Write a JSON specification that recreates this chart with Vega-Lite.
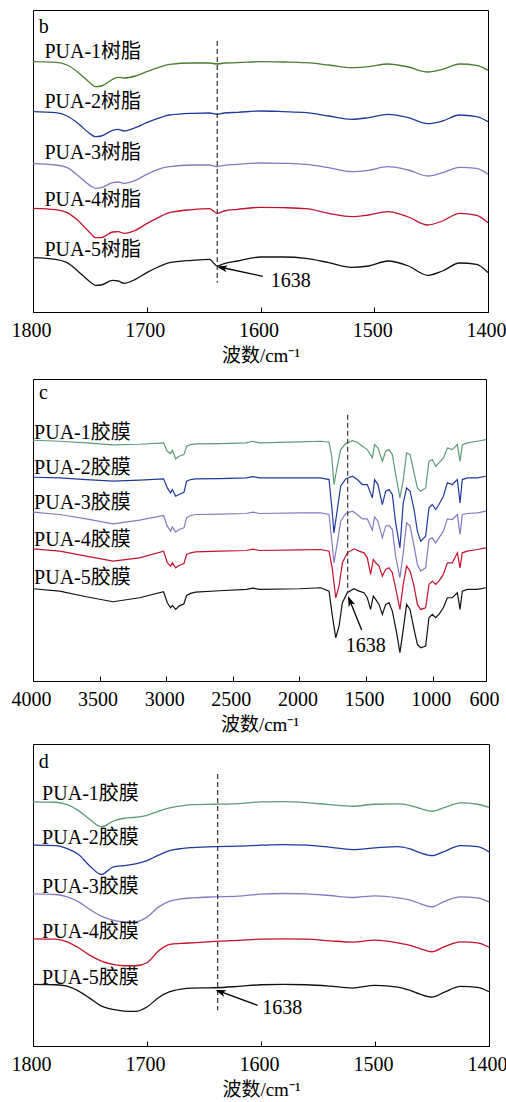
{
"$schema": "https://vega.github.io/schema/vega-lite/v6.json",
"padding": {"left": 10, "top": 9, "right": 0, "bottom": 0},
"config": {
  "font": "Liberation Serif",
  "view": {"stroke": "#000", "strokeWidth": 1},
  "axis": {"labelFont": "Liberation Serif", "labelFontSize": 20, "labelColor": "#000", "labelOffset": -2, "titleFont": "Liberation Serif, Noto Sans CJK SC", "titleFontSize": 19, "titleFontWeight": "normal", "titleColor": "#000", "domainColor": "#000", "tickColor": "#000", "tickSize": -5, "labelPadding": 13, "titlePadding": 6, "grid": false, "labelFlush": false, "labelOverlap": false},
  "text": {"color": "#000", "fontSize": 20, "font": "Liberation Serif, Noto Sans CJK SC"}
},
"datasets": {
"b": [
{"s":"PUA-1","x":1800,"y":818},{"s":"PUA-1","x":1780,"y":816},{"s":"PUA-1","x":1770,"y":808},{"s":"PUA-1","x":1760,"y":785},{"s":"PUA-1","x":1750,"y":755},{"s":"PUA-1","x":1745,"y":743},{"s":"PUA-1","x":1740,"y":745},{"s":"PUA-1","x":1730,"y":765},{"s":"PUA-1","x":1725,"y":771},{"s":"PUA-1","x":1720,"y":769},{"s":"PUA-1","x":1710,"y":775},{"s":"PUA-1","x":1700,"y":788},{"s":"PUA-1","x":1690,"y":800},{"s":"PUA-1","x":1680,"y":810},{"s":"PUA-1","x":1660,"y":814},{"s":"PUA-1","x":1645,"y":814},{"s":"PUA-1","x":1638,"y":811},{"s":"PUA-1","x":1632,"y":814},{"s":"PUA-1","x":1620,"y":815},{"s":"PUA-1","x":1600,"y":818},{"s":"PUA-1","x":1580,"y":817},{"s":"PUA-1","x":1560,"y":815},{"s":"PUA-1","x":1540,"y":808},{"s":"PUA-1","x":1520,"y":800},{"s":"PUA-1","x":1505,"y":803},{"s":"PUA-1","x":1488,"y":811},{"s":"PUA-1","x":1470,"y":802},{"s":"PUA-1","x":1453,"y":787},{"s":"PUA-1","x":1440,"y":795},{"s":"PUA-1","x":1425,"y":811},{"s":"PUA-1","x":1410,"y":807},{"s":"PUA-1","x":1400,"y":792},
{"s":"PUA-2","x":1800,"y":668},{"s":"PUA-2","x":1780,"y":665},{"s":"PUA-2","x":1770,"y":655},{"s":"PUA-2","x":1760,"y":632},{"s":"PUA-2","x":1750,"y":602},{"s":"PUA-2","x":1745,"y":593},{"s":"PUA-2","x":1740,"y":595},{"s":"PUA-2","x":1730,"y":612},{"s":"PUA-2","x":1725,"y":615},{"s":"PUA-2","x":1720,"y":610},{"s":"PUA-2","x":1710,"y":620},{"s":"PUA-2","x":1700,"y":635},{"s":"PUA-2","x":1690,"y":648},{"s":"PUA-2","x":1680,"y":658},{"s":"PUA-2","x":1660,"y":663},{"s":"PUA-2","x":1645,"y":664},{"s":"PUA-2","x":1638,"y":660},{"s":"PUA-2","x":1632,"y":664},{"s":"PUA-2","x":1620,"y":666},{"s":"PUA-2","x":1600,"y":670},{"s":"PUA-2","x":1580,"y":668},{"s":"PUA-2","x":1560,"y":665},{"s":"PUA-2","x":1540,"y":655},{"s":"PUA-2","x":1520,"y":645},{"s":"PUA-2","x":1505,"y":650},{"s":"PUA-2","x":1488,"y":660},{"s":"PUA-2","x":1470,"y":650},{"s":"PUA-2","x":1453,"y":632},{"s":"PUA-2","x":1440,"y":640},{"s":"PUA-2","x":1425,"y":658},{"s":"PUA-2","x":1410,"y":653},{"s":"PUA-2","x":1400,"y":638},
{"s":"PUA-3","x":1800,"y":512},{"s":"PUA-3","x":1780,"y":508},{"s":"PUA-3","x":1770,"y":500},{"s":"PUA-3","x":1760,"y":475},{"s":"PUA-3","x":1750,"y":447},{"s":"PUA-3","x":1745,"y":438},{"s":"PUA-3","x":1740,"y":440},{"s":"PUA-3","x":1730,"y":455},{"s":"PUA-3","x":1725,"y":457},{"s":"PUA-3","x":1720,"y":453},{"s":"PUA-3","x":1710,"y":462},{"s":"PUA-3","x":1700,"y":480},{"s":"PUA-3","x":1690,"y":495},{"s":"PUA-3","x":1680,"y":503},{"s":"PUA-3","x":1660,"y":508},{"s":"PUA-3","x":1645,"y":508},{"s":"PUA-3","x":1638,"y":503},{"s":"PUA-3","x":1632,"y":507},{"s":"PUA-3","x":1620,"y":510},{"s":"PUA-3","x":1600,"y":514},{"s":"PUA-3","x":1580,"y":513},{"s":"PUA-3","x":1560,"y":510},{"s":"PUA-3","x":1540,"y":500},{"s":"PUA-3","x":1520,"y":488},{"s":"PUA-3","x":1505,"y":492},{"s":"PUA-3","x":1488,"y":503},{"s":"PUA-3","x":1470,"y":493},{"s":"PUA-3","x":1453,"y":475},{"s":"PUA-3","x":1440,"y":485},{"s":"PUA-3","x":1425,"y":501},{"s":"PUA-3","x":1410,"y":498},{"s":"PUA-3","x":1400,"y":480},
{"s":"PUA-4","x":1800,"y":378},{"s":"PUA-4","x":1780,"y":374},{"s":"PUA-4","x":1770,"y":365},{"s":"PUA-4","x":1760,"y":340},{"s":"PUA-4","x":1750,"y":305},{"s":"PUA-4","x":1745,"y":290},{"s":"PUA-4","x":1740,"y":290},{"s":"PUA-4","x":1730,"y":307},{"s":"PUA-4","x":1725,"y":308},{"s":"PUA-4","x":1720,"y":303},{"s":"PUA-4","x":1710,"y":312},{"s":"PUA-4","x":1700,"y":332},{"s":"PUA-4","x":1690,"y":350},{"s":"PUA-4","x":1680,"y":365},{"s":"PUA-4","x":1660,"y":374},{"s":"PUA-4","x":1645,"y":377},{"s":"PUA-4","x":1638,"y":363},{"s":"PUA-4","x":1632,"y":370},{"s":"PUA-4","x":1620,"y":375},{"s":"PUA-4","x":1600,"y":381},{"s":"PUA-4","x":1580,"y":380},{"s":"PUA-4","x":1560,"y":377},{"s":"PUA-4","x":1540,"y":363},{"s":"PUA-4","x":1520,"y":353},{"s":"PUA-4","x":1505,"y":358},{"s":"PUA-4","x":1488,"y":368},{"s":"PUA-4","x":1470,"y":352},{"s":"PUA-4","x":1453,"y":328},{"s":"PUA-4","x":1440,"y":340},{"s":"PUA-4","x":1425,"y":363},{"s":"PUA-4","x":1410,"y":357},{"s":"PUA-4","x":1400,"y":335},
{"s":"PUA-5","x":1800,"y":230},{"s":"PUA-5","x":1780,"y":225},{"s":"PUA-5","x":1770,"y":215},{"s":"PUA-5","x":1760,"y":188},{"s":"PUA-5","x":1750,"y":158},{"s":"PUA-5","x":1745,"y":147},{"s":"PUA-5","x":1740,"y":148},{"s":"PUA-5","x":1730,"y":162},{"s":"PUA-5","x":1725,"y":160},{"s":"PUA-5","x":1720,"y":153},{"s":"PUA-5","x":1710,"y":165},{"s":"PUA-5","x":1700,"y":185},{"s":"PUA-5","x":1690,"y":202},{"s":"PUA-5","x":1680,"y":215},{"s":"PUA-5","x":1660,"y":222},{"s":"PUA-5","x":1645,"y":225},{"s":"PUA-5","x":1638,"y":205},{"s":"PUA-5","x":1632,"y":212},{"s":"PUA-5","x":1620,"y":220},{"s":"PUA-5","x":1600,"y":232},{"s":"PUA-5","x":1580,"y":232},{"s":"PUA-5","x":1560,"y":228},{"s":"PUA-5","x":1540,"y":215},{"s":"PUA-5","x":1520,"y":201},{"s":"PUA-5","x":1505,"y":205},{"s":"PUA-5","x":1488,"y":220},{"s":"PUA-5","x":1470,"y":205},{"s":"PUA-5","x":1453,"y":177},{"s":"PUA-5","x":1440,"y":190},{"s":"PUA-5","x":1425,"y":214},{"s":"PUA-5","x":1410,"y":210},{"s":"PUA-5","x":1400,"y":185}
],
"c": [
{"s":"PUA-1","x":4000,"y":758},{"s":"PUA-1","x":3800,"y":755},{"s":"PUA-1","x":3600,"y":750},{"s":"PUA-1","x":3400,"y":744},{"s":"PUA-1","x":3200,"y":746},{"s":"PUA-1","x":3020,"y":750},{"s":"PUA-1","x":2992,"y":725},{"s":"PUA-1","x":2967,"y":718},{"s":"PUA-1","x":2954,"y":728},{"s":"PUA-1","x":2929,"y":702},{"s":"PUA-1","x":2904,"y":710},{"s":"PUA-1","x":2867,"y":715},{"s":"PUA-1","x":2847,"y":740},{"s":"PUA-1","x":2817,"y":745},{"s":"PUA-1","x":2780,"y":747},{"s":"PUA-1","x":2600,"y":748},{"s":"PUA-1","x":2400,"y":750},{"s":"PUA-1","x":2350,"y":755},{"s":"PUA-1","x":2300,"y":750},{"s":"PUA-1","x":2000,"y":753},{"s":"PUA-1","x":1841,"y":755},{"s":"PUA-1","x":1778,"y":752},{"s":"PUA-1","x":1758,"y":710},{"s":"PUA-1","x":1741,"y":625},{"s":"PUA-1","x":1716,"y":680},{"s":"PUA-1","x":1691,"y":730},{"s":"PUA-1","x":1653,"y":748},{"s":"PUA-1","x":1603,"y":757},{"s":"PUA-1","x":1566,"y":752},{"s":"PUA-1","x":1528,"y":740},{"s":"PUA-1","x":1491,"y":730},{"s":"PUA-1","x":1453,"y":705},{"s":"PUA-1","x":1436,"y":745},{"s":"PUA-1","x":1411,"y":735},{"s":"PUA-1","x":1378,"y":695},{"s":"PUA-1","x":1353,"y":725},{"s":"PUA-1","x":1328,"y":730},{"s":"PUA-1","x":1303,"y":715},{"s":"PUA-1","x":1278,"y":655},{"s":"PUA-1","x":1246,"y":585},{"s":"PUA-1","x":1221,"y":640},{"s":"PUA-1","x":1196,"y":720},{"s":"PUA-1","x":1170,"y":715},{"s":"PUA-1","x":1140,"y":660},{"s":"PUA-1","x":1115,"y":615},{"s":"PUA-1","x":1090,"y":605},{"s":"PUA-1","x":1053,"y":615},{"s":"PUA-1","x":1028,"y":695},{"s":"PUA-1","x":1003,"y":700},{"s":"PUA-1","x":978,"y":680},{"s":"PUA-1","x":953,"y":690},{"s":"PUA-1","x":920,"y":705},{"s":"PUA-1","x":890,"y":735},{"s":"PUA-1","x":853,"y":730},{"s":"PUA-1","x":815,"y":745},{"s":"PUA-1","x":795,"y":695},{"s":"PUA-1","x":778,"y":745},{"s":"PUA-1","x":740,"y":750},{"s":"PUA-1","x":665,"y":755},{"s":"PUA-1","x":600,"y":760},
{"s":"PUA-2","x":4000,"y":647},{"s":"PUA-2","x":3800,"y":645},{"s":"PUA-2","x":3600,"y":640},{"s":"PUA-2","x":3400,"y":635},{"s":"PUA-2","x":3200,"y":638},{"s":"PUA-2","x":3020,"y":642},{"s":"PUA-2","x":2992,"y":615},{"s":"PUA-2","x":2967,"y":600},{"s":"PUA-2","x":2954,"y":610},{"s":"PUA-2","x":2929,"y":590},{"s":"PUA-2","x":2904,"y":595},{"s":"PUA-2","x":2867,"y":602},{"s":"PUA-2","x":2847,"y":635},{"s":"PUA-2","x":2817,"y":640},{"s":"PUA-2","x":2780,"y":642},{"s":"PUA-2","x":2600,"y":643},{"s":"PUA-2","x":2400,"y":645},{"s":"PUA-2","x":2350,"y":649},{"s":"PUA-2","x":2300,"y":645},{"s":"PUA-2","x":2000,"y":645},{"s":"PUA-2","x":1841,"y":645},{"s":"PUA-2","x":1778,"y":640},{"s":"PUA-2","x":1758,"y":560},{"s":"PUA-2","x":1741,"y":480},{"s":"PUA-2","x":1716,"y":550},{"s":"PUA-2","x":1691,"y":620},{"s":"PUA-2","x":1653,"y":642},{"s":"PUA-2","x":1603,"y":650},{"s":"PUA-2","x":1566,"y":640},{"s":"PUA-2","x":1528,"y":625},{"s":"PUA-2","x":1491,"y":625},{"s":"PUA-2","x":1453,"y":585},{"s":"PUA-2","x":1436,"y":640},{"s":"PUA-2","x":1411,"y":625},{"s":"PUA-2","x":1378,"y":565},{"s":"PUA-2","x":1353,"y":605},{"s":"PUA-2","x":1328,"y":610},{"s":"PUA-2","x":1303,"y":595},{"s":"PUA-2","x":1278,"y":510},{"s":"PUA-2","x":1246,"y":435},{"s":"PUA-2","x":1221,"y":570},{"s":"PUA-2","x":1196,"y":615},{"s":"PUA-2","x":1170,"y":605},{"s":"PUA-2","x":1140,"y":550},{"s":"PUA-2","x":1115,"y":485},{"s":"PUA-2","x":1090,"y":455},{"s":"PUA-2","x":1053,"y":470},{"s":"PUA-2","x":1028,"y":555},{"s":"PUA-2","x":1003,"y":565},{"s":"PUA-2","x":978,"y":550},{"s":"PUA-2","x":953,"y":565},{"s":"PUA-2","x":920,"y":590},{"s":"PUA-2","x":890,"y":630},{"s":"PUA-2","x":853,"y":625},{"s":"PUA-2","x":815,"y":640},{"s":"PUA-2","x":795,"y":570},{"s":"PUA-2","x":778,"y":640},{"s":"PUA-2","x":740,"y":645},{"s":"PUA-2","x":665,"y":645},{"s":"PUA-2","x":600,"y":650},
{"s":"PUA-3","x":4000,"y":542},{"s":"PUA-3","x":3800,"y":535},{"s":"PUA-3","x":3600,"y":522},{"s":"PUA-3","x":3400,"y":507},{"s":"PUA-3","x":3200,"y":518},{"s":"PUA-3","x":3020,"y":532},{"s":"PUA-3","x":2992,"y":500},{"s":"PUA-3","x":2967,"y":485},{"s":"PUA-3","x":2954,"y":498},{"s":"PUA-3","x":2929,"y":482},{"s":"PUA-3","x":2904,"y":490},{"s":"PUA-3","x":2867,"y":495},{"s":"PUA-3","x":2847,"y":525},{"s":"PUA-3","x":2817,"y":532},{"s":"PUA-3","x":2780,"y":535},{"s":"PUA-3","x":2600,"y":536},{"s":"PUA-3","x":2400,"y":538},{"s":"PUA-3","x":2350,"y":542},{"s":"PUA-3","x":2300,"y":538},{"s":"PUA-3","x":2000,"y":540},{"s":"PUA-3","x":1841,"y":540},{"s":"PUA-3","x":1778,"y":535},{"s":"PUA-3","x":1758,"y":460},{"s":"PUA-3","x":1741,"y":390},{"s":"PUA-3","x":1716,"y":450},{"s":"PUA-3","x":1691,"y":515},{"s":"PUA-3","x":1653,"y":538},{"s":"PUA-3","x":1603,"y":545},{"s":"PUA-3","x":1566,"y":535},{"s":"PUA-3","x":1528,"y":522},{"s":"PUA-3","x":1491,"y":522},{"s":"PUA-3","x":1453,"y":488},{"s":"PUA-3","x":1436,"y":528},{"s":"PUA-3","x":1411,"y":515},{"s":"PUA-3","x":1378,"y":465},{"s":"PUA-3","x":1353,"y":500},{"s":"PUA-3","x":1328,"y":502},{"s":"PUA-3","x":1303,"y":490},{"s":"PUA-3","x":1278,"y":410},{"s":"PUA-3","x":1246,"y":345},{"s":"PUA-3","x":1221,"y":420},{"s":"PUA-3","x":1196,"y":510},{"s":"PUA-3","x":1170,"y":500},{"s":"PUA-3","x":1140,"y":440},{"s":"PUA-3","x":1115,"y":385},{"s":"PUA-3","x":1090,"y":365},{"s":"PUA-3","x":1053,"y":375},{"s":"PUA-3","x":1028,"y":460},{"s":"PUA-3","x":1003,"y":465},{"s":"PUA-3","x":978,"y":450},{"s":"PUA-3","x":953,"y":465},{"s":"PUA-3","x":920,"y":485},{"s":"PUA-3","x":890,"y":522},{"s":"PUA-3","x":853,"y":520},{"s":"PUA-3","x":815,"y":535},{"s":"PUA-3","x":795,"y":475},{"s":"PUA-3","x":778,"y":535},{"s":"PUA-3","x":740,"y":538},{"s":"PUA-3","x":665,"y":540},{"s":"PUA-3","x":600,"y":545},
{"s":"PUA-4","x":4000,"y":432},{"s":"PUA-4","x":3800,"y":425},{"s":"PUA-4","x":3600,"y":410},{"s":"PUA-4","x":3400,"y":395},{"s":"PUA-4","x":3200,"y":405},{"s":"PUA-4","x":3020,"y":425},{"s":"PUA-4","x":2992,"y":390},{"s":"PUA-4","x":2967,"y":380},{"s":"PUA-4","x":2954,"y":390},{"s":"PUA-4","x":2929,"y":375},{"s":"PUA-4","x":2904,"y":382},{"s":"PUA-4","x":2867,"y":388},{"s":"PUA-4","x":2847,"y":415},{"s":"PUA-4","x":2817,"y":420},{"s":"PUA-4","x":2780,"y":423},{"s":"PUA-4","x":2600,"y":425},{"s":"PUA-4","x":2400,"y":427},{"s":"PUA-4","x":2350,"y":431},{"s":"PUA-4","x":2300,"y":427},{"s":"PUA-4","x":2000,"y":429},{"s":"PUA-4","x":1841,"y":430},{"s":"PUA-4","x":1778,"y":425},{"s":"PUA-4","x":1753,"y":370},{"s":"PUA-4","x":1728,"y":285},{"s":"PUA-4","x":1703,"y":320},{"s":"PUA-4","x":1678,"y":390},{"s":"PUA-4","x":1641,"y":420},{"s":"PUA-4","x":1591,"y":432},{"s":"PUA-4","x":1553,"y":425},{"s":"PUA-4","x":1516,"y":420},{"s":"PUA-4","x":1491,"y":405},{"s":"PUA-4","x":1466,"y":355},{"s":"PUA-4","x":1446,"y":400},{"s":"PUA-4","x":1428,"y":390},{"s":"PUA-4","x":1403,"y":380},{"s":"PUA-4","x":1378,"y":350},{"s":"PUA-4","x":1353,"y":370},{"s":"PUA-4","x":1328,"y":375},{"s":"PUA-4","x":1303,"y":360},{"s":"PUA-4","x":1271,"y":300},{"s":"PUA-4","x":1246,"y":250},{"s":"PUA-4","x":1221,"y":325},{"s":"PUA-4","x":1196,"y":380},{"s":"PUA-4","x":1170,"y":365},{"s":"PUA-4","x":1140,"y":320},{"s":"PUA-4","x":1115,"y":265},{"s":"PUA-4","x":1090,"y":250},{"s":"PUA-4","x":1053,"y":255},{"s":"PUA-4","x":1028,"y":325},{"s":"PUA-4","x":1003,"y":335},{"s":"PUA-4","x":978,"y":325},{"s":"PUA-4","x":953,"y":335},{"s":"PUA-4","x":920,"y":355},{"s":"PUA-4","x":890,"y":390},{"s":"PUA-4","x":853,"y":390},{"s":"PUA-4","x":815,"y":420},{"s":"PUA-4","x":795,"y":375},{"s":"PUA-4","x":778,"y":420},{"s":"PUA-4","x":740,"y":425},{"s":"PUA-4","x":665,"y":430},{"s":"PUA-4","x":600,"y":435},
{"s":"PUA-5","x":4000,"y":312},{"s":"PUA-5","x":3800,"y":305},{"s":"PUA-5","x":3600,"y":288},{"s":"PUA-5","x":3400,"y":273},{"s":"PUA-5","x":3200,"y":285},{"s":"PUA-5","x":3020,"y":303},{"s":"PUA-5","x":2992,"y":270},{"s":"PUA-5","x":2967,"y":255},{"s":"PUA-5","x":2954,"y":262},{"s":"PUA-5","x":2929,"y":250},{"s":"PUA-5","x":2904,"y":260},{"s":"PUA-5","x":2867,"y":267},{"s":"PUA-5","x":2847,"y":292},{"s":"PUA-5","x":2817,"y":298},{"s":"PUA-5","x":2780,"y":302},{"s":"PUA-5","x":2600,"y":306},{"s":"PUA-5","x":2400,"y":310},{"s":"PUA-5","x":2350,"y":314},{"s":"PUA-5","x":2300,"y":310},{"s":"PUA-5","x":2000,"y":312},{"s":"PUA-5","x":1841,"y":315},{"s":"PUA-5","x":1778,"y":305},{"s":"PUA-5","x":1753,"y":230},{"s":"PUA-5","x":1728,"y":165},{"s":"PUA-5","x":1703,"y":200},{"s":"PUA-5","x":1678,"y":270},{"s":"PUA-5","x":1641,"y":300},{"s":"PUA-5","x":1591,"y":312},{"s":"PUA-5","x":1553,"y":305},{"s":"PUA-5","x":1516,"y":300},{"s":"PUA-5","x":1491,"y":285},{"s":"PUA-5","x":1466,"y":250},{"s":"PUA-5","x":1446,"y":290},{"s":"PUA-5","x":1428,"y":280},{"s":"PUA-5","x":1403,"y":265},{"s":"PUA-5","x":1378,"y":235},{"s":"PUA-5","x":1353,"y":265},{"s":"PUA-5","x":1328,"y":270},{"s":"PUA-5","x":1303,"y":245},{"s":"PUA-5","x":1271,"y":180},{"s":"PUA-5","x":1246,"y":120},{"s":"PUA-5","x":1221,"y":190},{"s":"PUA-5","x":1196,"y":265},{"s":"PUA-5","x":1170,"y":250},{"s":"PUA-5","x":1140,"y":190},{"s":"PUA-5","x":1115,"y":145},{"s":"PUA-5","x":1090,"y":135},{"s":"PUA-5","x":1053,"y":140},{"s":"PUA-5","x":1028,"y":225},{"s":"PUA-5","x":1003,"y":235},{"s":"PUA-5","x":978,"y":225},{"s":"PUA-5","x":953,"y":235},{"s":"PUA-5","x":920,"y":255},{"s":"PUA-5","x":890,"y":285},{"s":"PUA-5","x":853,"y":285},{"s":"PUA-5","x":815,"y":300},{"s":"PUA-5","x":795,"y":250},{"s":"PUA-5","x":778,"y":305},{"s":"PUA-5","x":740,"y":310},{"s":"PUA-5","x":665,"y":310},{"s":"PUA-5","x":600,"y":315}
],
"d": [
{"s":"PUA-1","x":1800,"y":778},{"s":"PUA-1","x":1780,"y":777},{"s":"PUA-1","x":1770,"y":770},{"s":"PUA-1","x":1760,"y":752},{"s":"PUA-1","x":1750,"y":725},{"s":"PUA-1","x":1740,"y":703},{"s":"PUA-1","x":1730,"y":720},{"s":"PUA-1","x":1720,"y":729},{"s":"PUA-1","x":1710,"y":732},{"s":"PUA-1","x":1700,"y":738},{"s":"PUA-1","x":1690,"y":750},{"s":"PUA-1","x":1680,"y":760},{"s":"PUA-1","x":1670,"y":766},{"s":"PUA-1","x":1660,"y":770},{"s":"PUA-1","x":1640,"y":771},{"s":"PUA-1","x":1620,"y":773},{"s":"PUA-1","x":1600,"y":778},{"s":"PUA-1","x":1580,"y":779},{"s":"PUA-1","x":1560,"y":776},{"s":"PUA-1","x":1540,"y":770},{"s":"PUA-1","x":1520,"y":765},{"s":"PUA-1","x":1500,"y":771},{"s":"PUA-1","x":1480,"y":772},{"s":"PUA-1","x":1470,"y":768},{"s":"PUA-1","x":1460,"y":758},{"s":"PUA-1","x":1450,"y":750},{"s":"PUA-1","x":1440,"y":760},{"s":"PUA-1","x":1425,"y":775},{"s":"PUA-1","x":1410,"y":771},{"s":"PUA-1","x":1400,"y":762},
{"s":"PUA-2","x":1800,"y":648},{"s":"PUA-2","x":1780,"y":647},{"s":"PUA-2","x":1770,"y":638},{"s":"PUA-2","x":1760,"y":620},{"s":"PUA-2","x":1750,"y":585},{"s":"PUA-2","x":1740,"y":560},{"s":"PUA-2","x":1730,"y":582},{"s":"PUA-2","x":1720,"y":587},{"s":"PUA-2","x":1710,"y":592},{"s":"PUA-2","x":1700,"y":602},{"s":"PUA-2","x":1690,"y":618},{"s":"PUA-2","x":1680,"y":632},{"s":"PUA-2","x":1670,"y":638},{"s":"PUA-2","x":1660,"y":641},{"s":"PUA-2","x":1640,"y":644},{"s":"PUA-2","x":1620,"y":645},{"s":"PUA-2","x":1600,"y":648},{"s":"PUA-2","x":1580,"y":650},{"s":"PUA-2","x":1560,"y":648},{"s":"PUA-2","x":1540,"y":642},{"s":"PUA-2","x":1520,"y":635},{"s":"PUA-2","x":1500,"y":640},{"s":"PUA-2","x":1480,"y":644},{"s":"PUA-2","x":1470,"y":638},{"s":"PUA-2","x":1460,"y":625},{"s":"PUA-2","x":1450,"y":617},{"s":"PUA-2","x":1440,"y":628},{"s":"PUA-2","x":1425,"y":647},{"s":"PUA-2","x":1410,"y":644},{"s":"PUA-2","x":1400,"y":628},
{"s":"PUA-3","x":1800,"y":502},{"s":"PUA-3","x":1780,"y":500},{"s":"PUA-3","x":1770,"y":493},{"s":"PUA-3","x":1760,"y":478},{"s":"PUA-3","x":1750,"y":455},{"s":"PUA-3","x":1740,"y":435},{"s":"PUA-3","x":1730,"y":423},{"s":"PUA-3","x":1720,"y":418},{"s":"PUA-3","x":1710,"y":418},{"s":"PUA-3","x":1700,"y":432},{"s":"PUA-3","x":1690,"y":462},{"s":"PUA-3","x":1680,"y":480},{"s":"PUA-3","x":1670,"y":487},{"s":"PUA-3","x":1660,"y":490},{"s":"PUA-3","x":1640,"y":493},{"s":"PUA-3","x":1620,"y":495},{"s":"PUA-3","x":1600,"y":501},{"s":"PUA-3","x":1580,"y":503},{"s":"PUA-3","x":1560,"y":502},{"s":"PUA-3","x":1540,"y":497},{"s":"PUA-3","x":1520,"y":491},{"s":"PUA-3","x":1500,"y":496},{"s":"PUA-3","x":1480,"y":490},{"s":"PUA-3","x":1470,"y":484},{"s":"PUA-3","x":1460,"y":472},{"s":"PUA-3","x":1450,"y":463},{"s":"PUA-3","x":1440,"y":478},{"s":"PUA-3","x":1425,"y":493},{"s":"PUA-3","x":1410,"y":490},{"s":"PUA-3","x":1400,"y":478},
{"s":"PUA-4","x":1800,"y":367},{"s":"PUA-4","x":1780,"y":366},{"s":"PUA-4","x":1770,"y":358},{"s":"PUA-4","x":1760,"y":340},{"s":"PUA-4","x":1750,"y":317},{"s":"PUA-4","x":1740,"y":300},{"s":"PUA-4","x":1730,"y":290},{"s":"PUA-4","x":1720,"y":286},{"s":"PUA-4","x":1710,"y":286},{"s":"PUA-4","x":1700,"y":295},{"s":"PUA-4","x":1690,"y":330},{"s":"PUA-4","x":1680,"y":350},{"s":"PUA-4","x":1670,"y":353},{"s":"PUA-4","x":1660,"y":355},{"s":"PUA-4","x":1640,"y":359},{"s":"PUA-4","x":1620,"y":362},{"s":"PUA-4","x":1600,"y":366},{"s":"PUA-4","x":1580,"y":367},{"s":"PUA-4","x":1560,"y":366},{"s":"PUA-4","x":1540,"y":361},{"s":"PUA-4","x":1520,"y":357},{"s":"PUA-4","x":1500,"y":363},{"s":"PUA-4","x":1480,"y":355},{"s":"PUA-4","x":1470,"y":348},{"s":"PUA-4","x":1460,"y":337},{"s":"PUA-4","x":1450,"y":328},{"s":"PUA-4","x":1440,"y":342},{"s":"PUA-4","x":1425,"y":358},{"s":"PUA-4","x":1410,"y":355},{"s":"PUA-4","x":1400,"y":342},
{"s":"PUA-5","x":1800,"y":230},{"s":"PUA-5","x":1780,"y":229},{"s":"PUA-5","x":1770,"y":225},{"s":"PUA-5","x":1760,"y":210},{"s":"PUA-5","x":1750,"y":188},{"s":"PUA-5","x":1740,"y":165},{"s":"PUA-5","x":1730,"y":155},{"s":"PUA-5","x":1720,"y":150},{"s":"PUA-5","x":1710,"y":149},{"s":"PUA-5","x":1700,"y":162},{"s":"PUA-5","x":1690,"y":190},{"s":"PUA-5","x":1680,"y":208},{"s":"PUA-5","x":1670,"y":216},{"s":"PUA-5","x":1660,"y":219},{"s":"PUA-5","x":1640,"y":220},{"s":"PUA-5","x":1620,"y":224},{"s":"PUA-5","x":1600,"y":229},{"s":"PUA-5","x":1580,"y":230},{"s":"PUA-5","x":1560,"y":229},{"s":"PUA-5","x":1540,"y":225},{"s":"PUA-5","x":1520,"y":219},{"s":"PUA-5","x":1500,"y":227},{"s":"PUA-5","x":1480,"y":222},{"s":"PUA-5","x":1470,"y":213},{"s":"PUA-5","x":1460,"y":200},{"s":"PUA-5","x":1450,"y":192},{"s":"PUA-5","x":1440,"y":205},{"s":"PUA-5","x":1425,"y":224},{"s":"PUA-5","x":1410,"y":221},{"s":"PUA-5","x":1400,"y":208}
]
},
"spacing": 12,
"resolve": {"scale": {"color": "independent", "x": "independent", "y": "independent"}},
"vconcat": [
{
 "width": 455, "height": 302,
 "encoding": {
  "x": {"field": "x", "type": "quantitative", "scale": {"domain": [1400, 1800], "reverse": true, "nice": false, "zero": false}, "axis": {"values": [1800, 1700, 1600, 1500, 1400], "format": "d", "title": "波数/cm⁻¹"}},
  "y": {"field": "y", "type": "quantitative", "scale": {"domain": [67, 973], "nice": false, "zero": false}, "axis": null}
 },
 "layer": [
  {"data": {"name": "b"}, "mark": {"type": "line", "strokeWidth": 1.3, "interpolate": "monotone"},
   "encoding": {"color": {"field": "s", "type": "nominal", "legend": null, "scale": {"domain": ["PUA-1","PUA-2","PUA-3","PUA-4","PUA-5"], "range": ["#4b7c30","#1f3a9c","#8a77c2","#c2122c","#111111"]}}}},
  {"data": {"values": [{"x":1790,"y":830,"t":"PUA-1树脂"},{"x":1790,"y":680,"t":"PUA-2树脂"},{"x":1790,"y":527,"t":"PUA-3树脂"},{"x":1790,"y":385,"t":"PUA-4树脂"},{"x":1790,"y":235,"t":"PUA-5树脂"}]},
   "mark": {"type": "text", "align": "left", "baseline": "alphabetic"}, "encoding": {"text": {"field": "t"}}},
  {"data": {"values": [{"x":1795,"y":905,"t":"b"}]}, "mark": {"type": "text", "align": "left", "baseline": "alphabetic"}, "encoding": {"text": {"field": "t"}}},
  {"data": {"values": [{"x":1638,"y":880,"y2":155}]}, "mark": {"type": "rule", "color": "#333", "strokeWidth": 1.2, "strokeDash": [5, 3]}, "encoding": {"y2": {"field": "y2"}}},
  {"data": {"values": [{"x":1598,"y":174,"x2":1636,"y2":202}]}, "mark": {"type": "rule", "color": "#000", "strokeWidth": 1.3}, "encoding": {"x2": {"field": "x2"}, "y2": {"field": "y2"}}},
  {"data": {"values": [{"x":1638.4,"y":203}]}, "mark": {"type": "point", "shape": "M0,0L1,3L0,2.2L-1,3Z", "size": 50, "filled": true, "color": "#000", "opacity": 1, "angle": 282}, "encoding": {}},
  {"data": {"values": [{"x":1591,"y":142,"t":"1638"}]}, "mark": {"type": "text", "align": "left", "baseline": "alphabetic"}, "encoding": {"text": {"field": "t"}}}
 ]
},
{
 "spacing": 8,
 "resolve": {"scale": {"color": "independent", "x": "independent", "y": "independent"}},
 "vconcat": [
 {
  "width": 453, "height": 302,
  "encoding": {
   "x": {"field": "x", "type": "quantitative", "scale": {"domain": [600, 4000], "reverse": true, "nice": false, "zero": false}, "axis": {"values": [4000, 3500, 3000, 2500, 2000, 1500, 1000, 600], "format": "d", "title": "波数/cm⁻¹"}},
   "y": {"field": "y", "type": "quantitative", "scale": {"domain": [35, 942], "nice": false, "zero": false}, "axis": null}
  },
  "layer": [
   {"data": {"name": "c"}, "mark": {"type": "line", "strokeWidth": 1.2, "interpolate": "linear"},
    "encoding": {"color": {"field": "s", "type": "nominal", "legend": null, "scale": {"domain": ["PUA-1","PUA-2","PUA-3","PUA-4","PUA-5"], "range": ["#5b9c7a","#1f3a9c","#8a77c2","#c2122c","#111111"]}}}},
   {"data": {"values": [{"x":3992,"y":763,"t":"PUA-1胶膜"},{"x":3992,"y":658,"t":"PUA-2胶膜"},{"x":3992,"y":553,"t":"PUA-3胶膜"},{"x":3992,"y":440,"t":"PUA-4胶膜"},{"x":3992,"y":325,"t":"PUA-5胶膜"}]},
    "mark": {"type": "text", "align": "left", "baseline": "alphabetic"}, "encoding": {"text": {"field": "t"}}},
   {"data": {"values": [{"x":3955,"y":883,"t":"c"}]}, "mark": {"type": "text", "align": "left", "baseline": "alphabetic"}, "encoding": {"text": {"field": "t"}}},
   {"data": {"values": [{"x":1638,"y":835,"y2":300}]}, "mark": {"type": "rule", "color": "#333", "strokeWidth": 1.2, "strokeDash": [5, 3]}, "encoding": {"y2": {"field": "y2"}}},
   {"data": {"values": [{"x":1533,"y":188,"x2":1630,"y2":284}]}, "mark": {"type": "rule", "color": "#000", "strokeWidth": 1.3}, "encoding": {"x2": {"field": "x2"}, "y2": {"field": "y2"}}},
   {"data": {"values": [{"x":1636,"y":290}]}, "mark": {"type": "point", "shape": "M0,0L1,3L0,2.2L-1,3Z", "size": 50, "filled": true, "color": "#000", "opacity": 1, "angle": 338}, "encoding": {}},
   {"data": {"values": [{"x":1653,"y":123,"t":"1638"}]}, "mark": {"type": "text", "align": "left", "baseline": "alphabetic"}, "encoding": {"text": {"field": "t"}}}
  ]
 },
 {
  "width": 456, "height": 302,
  "encoding": {
   "x": {"field": "x", "type": "quantitative", "scale": {"domain": [1400, 1800], "reverse": true, "nice": false, "zero": false}, "axis": {"values": [1800, 1700, 1600, 1500, 1400], "format": "d", "title": "波数/cm⁻¹"}},
   "y": {"field": "y", "type": "quantitative", "scale": {"domain": [45, 952], "nice": false, "zero": false}, "axis": null}
  },
  "layer": [
   {"data": {"name": "d"}, "mark": {"type": "line", "strokeWidth": 1.3, "interpolate": "monotone"},
    "encoding": {"color": {"field": "s", "type": "nominal", "legend": null, "scale": {"domain": ["PUA-1","PUA-2","PUA-3","PUA-4","PUA-5"], "range": ["#5b9c7a","#1f3a9c","#8a77c2","#c2122c","#111111"]}}}},
   {"data": {"values": [{"x":1792,"y":783,"t":"PUA-1胶膜"},{"x":1792,"y":652,"t":"PUA-2胶膜"},{"x":1792,"y":505,"t":"PUA-3胶膜"},{"x":1792,"y":368,"t":"PUA-4胶膜"},{"x":1792,"y":230,"t":"PUA-5胶膜"}]},
    "mark": {"type": "text", "align": "left", "baseline": "alphabetic"}, "encoding": {"text": {"field": "t"}}},
   {"data": {"values": [{"x":1795,"y":880,"t":"d"}]}, "mark": {"type": "text", "align": "left", "baseline": "alphabetic"}, "encoding": {"text": {"field": "t"}}},
   {"data": {"values": [{"x":1638,"y":862,"y2":152}]}, "mark": {"type": "rule", "color": "#333", "strokeWidth": 1.2, "strokeDash": [5, 3]}, "encoding": {"y2": {"field": "y2"}}},
   {"data": {"values": [{"x":1603,"y":167,"x2":1638,"y2":211}]}, "mark": {"type": "rule", "color": "#000", "strokeWidth": 1.3}, "encoding": {"x2": {"field": "x2"}, "y2": {"field": "y2"}}},
   {"data": {"values": [{"x":1640,"y":213}]}, "mark": {"type": "point", "shape": "M0,0L1,3L0,2.2L-1,3Z", "size": 50, "filled": true, "color": "#000", "opacity": 1, "angle": 290}, "encoding": {}},
   {"data": {"values": [{"x":1599,"y":140,"t":"1638"}]}, "mark": {"type": "text", "align": "left", "baseline": "alphabetic"}, "encoding": {"text": {"field": "t"}}}
  ]
 }
 ]
}
]
}
